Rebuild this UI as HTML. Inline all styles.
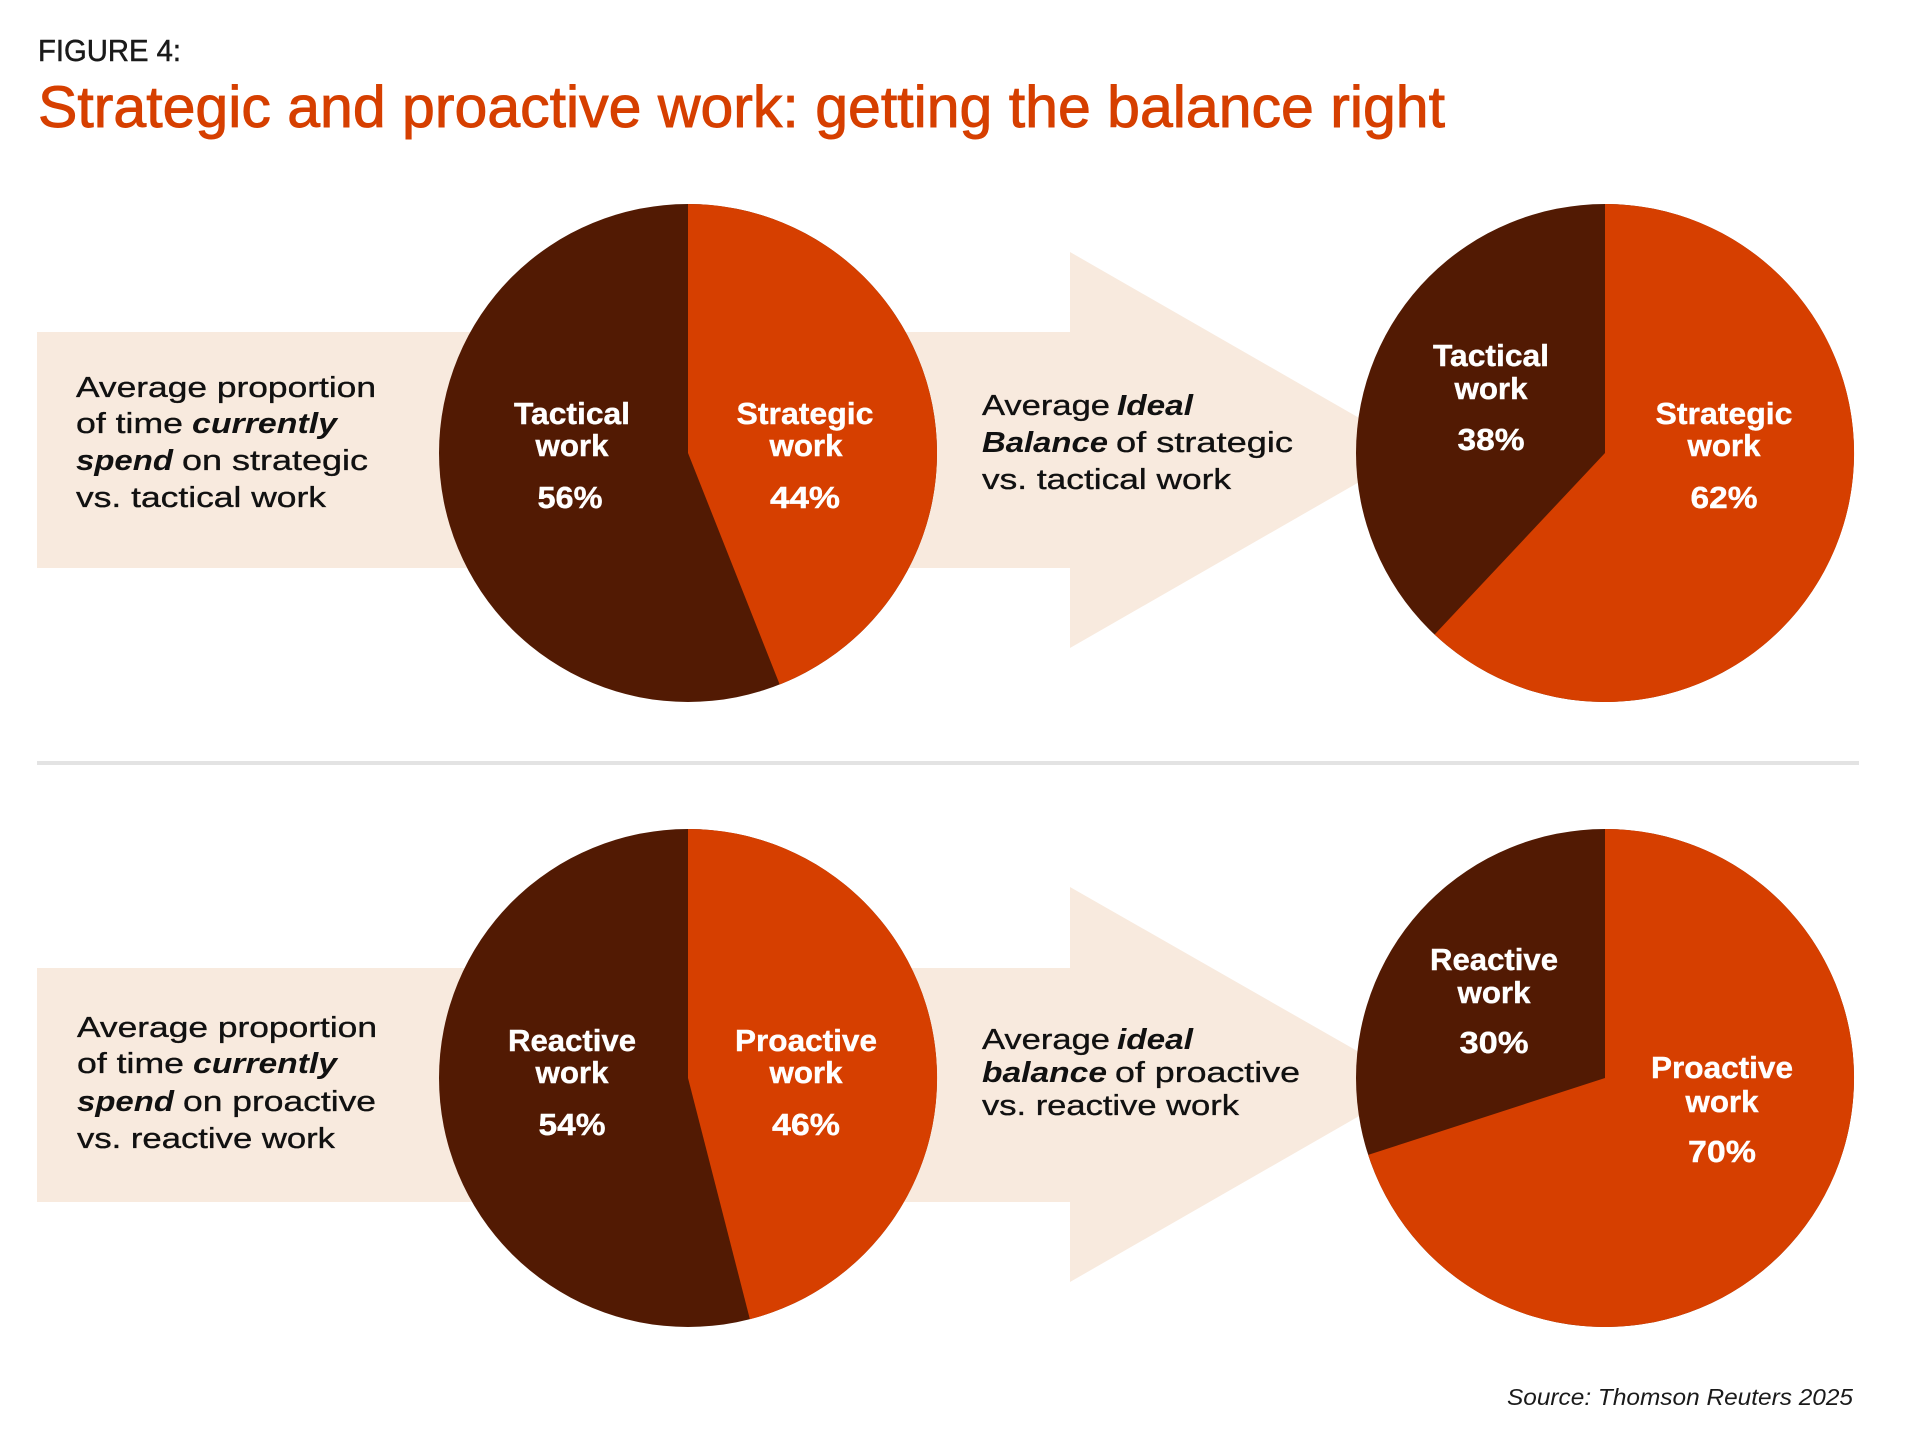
<!DOCTYPE html>
<html>
<head>
<meta charset="utf-8">
<style>
  html, body { margin: 0; padding: 0; background: #ffffff; }
  body { width: 1920px; height: 1448px; overflow: hidden; }
  svg { display: block; }
  .reg { font-family: "Liberation Sans", sans-serif; font-weight: 400; fill: #111111; stroke: #111111; stroke-width: 0.35; }
  .bi { font-family: "Liberation Sans", sans-serif; font-weight: 700; font-style: italic; fill: #111111; }
  .lbl { font-family: "Liberation Sans", sans-serif; font-weight: 700; fill: #ffffff; font-size: 31px; stroke: #ffffff; stroke-width: 0.4; }
</style>
</head>
<body>
<svg width="1920" height="1448" viewBox="0 0 1920 1448" xmlns="http://www.w3.org/2000/svg">
  <rect x="0" y="0" width="1920" height="1448" fill="#ffffff"/>

  <!-- Header -->
  <text x="38" y="61" font-family="Liberation Sans, sans-serif" font-size="31" fill="#1a1a1a" stroke="#1a1a1a" stroke-width="0.5" textLength="143" lengthAdjust="spacingAndGlyphs">FIGURE 4:</text>
  <text x="38" y="127" font-family="Liberation Sans, sans-serif" font-size="58" fill="#d63f00" stroke="#d63f00" stroke-width="0.9" textLength="1407" lengthAdjust="spacingAndGlyphs">Strategic and proactive work: getting the balance right</text>

  <!-- ============ TOP SECTION ============ -->
  <path d="M37,332 L1070,332 L1070,252 L1415,450 L1070,648 L1070,568 L37,568 Z" fill="#f8eade"/>

  <!-- Left description -->
  <text x="76" y="397" class="reg" font-size="29" textLength="300" lengthAdjust="spacingAndGlyphs">Average proportion</text>
  <text x="76" y="433" class="reg" font-size="29" textLength="107" lengthAdjust="spacingAndGlyphs">of time</text>
  <text x="192" y="433" class="bi" font-size="29" textLength="145" lengthAdjust="spacingAndGlyphs">currently</text>
  <text x="76" y="470" class="bi" font-size="29" textLength="97" lengthAdjust="spacingAndGlyphs">spend</text>
  <text x="182" y="470" class="reg" font-size="29" textLength="186" lengthAdjust="spacingAndGlyphs">on strategic</text>
  <text x="76" y="507" class="reg" font-size="29" textLength="250" lengthAdjust="spacingAndGlyphs">vs. tactical work</text>

  <!-- Left pie (top) -->
  <circle cx="688" cy="453" r="249" fill="#521a03"/>
  <path d="M688,453 L688,204 A249,249 0 0 1 779.7,684.5 Z" fill="#d63f00"/>
  <text x="572" y="424" class="lbl" text-anchor="middle" textLength="116" lengthAdjust="spacingAndGlyphs">Tactical</text>
  <text x="572" y="456" class="lbl" text-anchor="middle" textLength="73" lengthAdjust="spacingAndGlyphs">work</text>
  <text x="570" y="508" class="lbl" text-anchor="middle" textLength="65" lengthAdjust="spacingAndGlyphs">56%</text>
  <text x="805" y="424" class="lbl" text-anchor="middle" textLength="137" lengthAdjust="spacingAndGlyphs">Strategic</text>
  <text x="806" y="456" class="lbl" text-anchor="middle" textLength="73" lengthAdjust="spacingAndGlyphs">work</text>
  <text x="805" y="508" class="lbl" text-anchor="middle" textLength="70" lengthAdjust="spacingAndGlyphs">44%</text>

  <!-- Middle description -->
  <text x="982" y="415" class="reg" font-size="29" textLength="128" lengthAdjust="spacingAndGlyphs">Average</text>
  <text x="1117" y="415" class="bi" font-size="29" textLength="76" lengthAdjust="spacingAndGlyphs">Ideal</text>
  <text x="982" y="452" class="bi" font-size="29" textLength="126" lengthAdjust="spacingAndGlyphs">Balance</text>
  <text x="1116" y="452" class="reg" font-size="29" textLength="177" lengthAdjust="spacingAndGlyphs">of strategic</text>
  <text x="982" y="489" class="reg" font-size="29" textLength="249" lengthAdjust="spacingAndGlyphs">vs. tactical work</text>

  <!-- Right pie (top) -->
  <circle cx="1605" cy="453" r="249" fill="#521a03"/>
  <path d="M1605,453 L1605,204 A249,249 0 1 1 1434.6,634.5 Z" fill="#d63f00"/>
  <text x="1491" y="366" class="lbl" text-anchor="middle" textLength="116" lengthAdjust="spacingAndGlyphs">Tactical</text>
  <text x="1491" y="399" class="lbl" text-anchor="middle" textLength="73" lengthAdjust="spacingAndGlyphs">work</text>
  <text x="1491" y="450" class="lbl" text-anchor="middle" textLength="67" lengthAdjust="spacingAndGlyphs">38%</text>
  <text x="1724" y="424" class="lbl" text-anchor="middle" textLength="137" lengthAdjust="spacingAndGlyphs">Strategic</text>
  <text x="1724" y="456" class="lbl" text-anchor="middle" textLength="73" lengthAdjust="spacingAndGlyphs">work</text>
  <text x="1724" y="508" class="lbl" text-anchor="middle" textLength="67" lengthAdjust="spacingAndGlyphs">62%</text>

  <!-- Divider -->
  <rect x="37" y="761" width="1822" height="4" fill="#e3e3e3"/>

  <!-- ============ BOTTOM SECTION ============ -->
  <path d="M37,968 L1070,968 L1070,887 L1415,1084 L1070,1282 L1070,1202 L37,1202 Z" fill="#f8eade"/>

  <!-- Left description -->
  <text x="77" y="1037" class="reg" font-size="29" textLength="300" lengthAdjust="spacingAndGlyphs">Average proportion</text>
  <text x="77" y="1073" class="reg" font-size="29" textLength="107" lengthAdjust="spacingAndGlyphs">of time</text>
  <text x="193" y="1073" class="bi" font-size="29" textLength="144" lengthAdjust="spacingAndGlyphs">currently</text>
  <text x="77" y="1111" class="bi" font-size="29" textLength="97" lengthAdjust="spacingAndGlyphs">spend</text>
  <text x="183" y="1111" class="reg" font-size="29" textLength="193" lengthAdjust="spacingAndGlyphs">on proactive</text>
  <text x="77" y="1148" class="reg" font-size="29" textLength="258" lengthAdjust="spacingAndGlyphs">vs. reactive work</text>

  <!-- Left pie (bottom) -->
  <circle cx="688" cy="1078" r="249" fill="#521a03"/>
  <path d="M688,1078 L688,829 A249,249 0 0 1 749.9,1319.2 Z" fill="#d63f00"/>
  <text x="572" y="1051" class="lbl" text-anchor="middle" textLength="128" lengthAdjust="spacingAndGlyphs">Reactive</text>
  <text x="572" y="1083" class="lbl" text-anchor="middle" textLength="73" lengthAdjust="spacingAndGlyphs">work</text>
  <text x="572" y="1135" class="lbl" text-anchor="middle" textLength="67" lengthAdjust="spacingAndGlyphs">54%</text>
  <text x="806" y="1051" class="lbl" text-anchor="middle" textLength="142" lengthAdjust="spacingAndGlyphs">Proactive</text>
  <text x="806" y="1083" class="lbl" text-anchor="middle" textLength="73" lengthAdjust="spacingAndGlyphs">work</text>
  <text x="806" y="1135" class="lbl" text-anchor="middle" textLength="68" lengthAdjust="spacingAndGlyphs">46%</text>

  <!-- Middle description -->
  <text x="982" y="1049" class="reg" font-size="29" textLength="128" lengthAdjust="spacingAndGlyphs">Average</text>
  <text x="1117" y="1049" class="bi" font-size="29" textLength="76" lengthAdjust="spacingAndGlyphs">ideal</text>
  <text x="982" y="1082" class="bi" font-size="29" textLength="125" lengthAdjust="spacingAndGlyphs">balance</text>
  <text x="1115" y="1082" class="reg" font-size="29" textLength="185" lengthAdjust="spacingAndGlyphs">of proactive</text>
  <text x="982" y="1115" class="reg" font-size="29" textLength="257" lengthAdjust="spacingAndGlyphs">vs. reactive work</text>

  <!-- Right pie (bottom) -->
  <circle cx="1605" cy="1078" r="249" fill="#521a03"/>
  <path d="M1605,1078 L1605,829 A249,249 0 1 1 1368.2,1154.9 Z" fill="#d63f00"/>
  <text x="1494" y="970" class="lbl" text-anchor="middle" textLength="128" lengthAdjust="spacingAndGlyphs">Reactive</text>
  <text x="1494" y="1003" class="lbl" text-anchor="middle" textLength="73" lengthAdjust="spacingAndGlyphs">work</text>
  <text x="1494" y="1053" class="lbl" text-anchor="middle" textLength="69" lengthAdjust="spacingAndGlyphs">30%</text>
  <text x="1722" y="1078" class="lbl" text-anchor="middle" textLength="142" lengthAdjust="spacingAndGlyphs">Proactive</text>
  <text x="1722" y="1112" class="lbl" text-anchor="middle" textLength="73" lengthAdjust="spacingAndGlyphs">work</text>
  <text x="1722" y="1162" class="lbl" text-anchor="middle" textLength="68" lengthAdjust="spacingAndGlyphs">70%</text>

  <!-- Source -->
  <text x="1507" y="1405" font-family="Liberation Sans, sans-serif" font-style="italic" font-size="23" fill="#1a1a1a" textLength="346" lengthAdjust="spacingAndGlyphs">Source: Thomson Reuters 2025</text>
</svg>
</body>
</html>
